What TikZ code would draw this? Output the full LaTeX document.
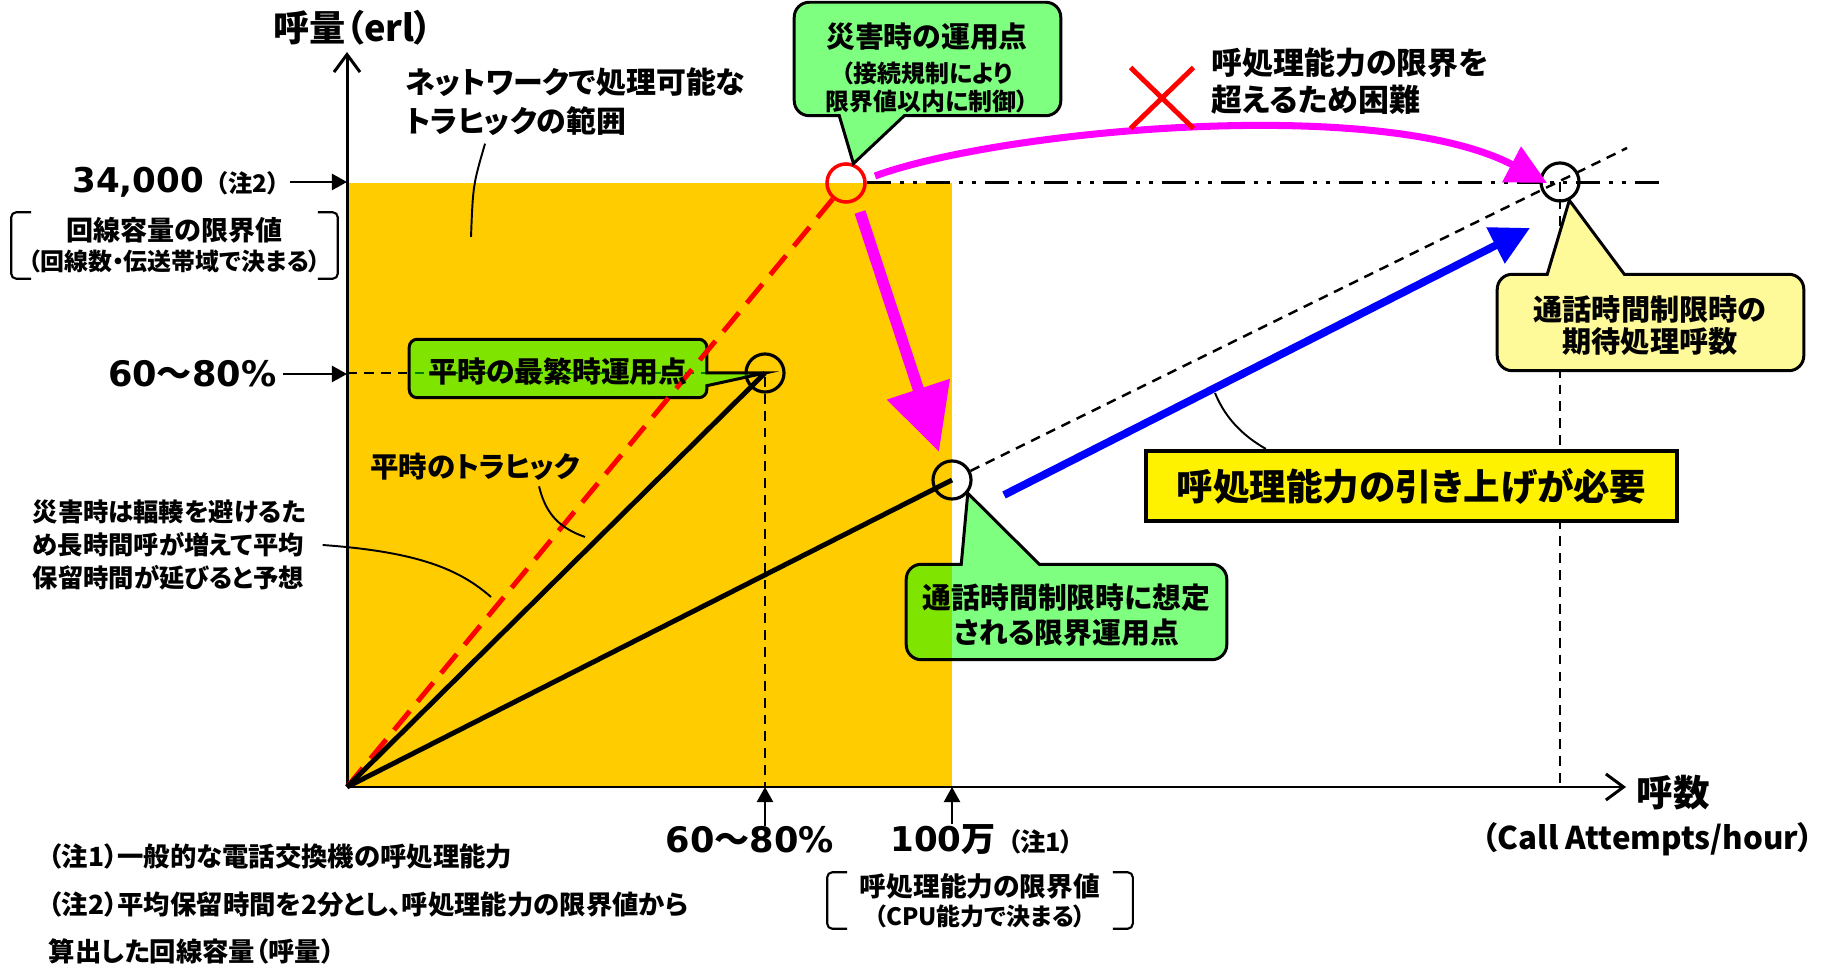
\documentclass[tikz,border=0pt]{standalone}
\usepackage{fontspec}
\setmainfont{Noto Sans CJK JP}[RawFeature=+palt]
\newfontfamily\numfont{DejaVu Sans}
\usetikzlibrary{positioning,calc,arrows.meta,shapes.misc}
\definecolor{zone}{HTML}{FFCC00}
\definecolor{pinkline}{HTML}{FF00FF}

\begin{document}
\begin{tikzpicture}[x=0.01cm, y=-0.01cm,
    every node/.style={inner sep=0pt, font=\bfseries},
    txt/.style 2 args={font=\fontsize{#1}{#2}\selectfont\bfseries},
    oppoint/.style={circle, draw, line width=0.9pt, minimum size=0.38cm},
    axisline/.style={line width=0.85pt, -{Straight Barb[length=5pt,width=7.4pt]}},
    tick/.style={line width=0.6pt, -{Triangle[length=4.3pt,width=4.6pt]}},
    guide/.style={line width=0.7pt, dash pattern=on 2.8pt off 2pt},
    limline/.style={line width=0.85pt, dash pattern=on 6.8pt off 2.6pt on 1.1pt off 2.6pt on 1.1pt off 2.6pt},
    traffic/.style={line width=1.4pt},
    bubble/.style={draw, line width=0.85pt, fill=#1},
    glass/.style={bubble=green, fill opacity=0.5},
    body/.style 2 args={minimum width=#1, minimum height=#2},
    lead/.style={line width=0.55pt},
    brk/.style={line width=0.6pt, rounded corners=0.05cm}
  ]
  \useasboundingbox (0,0) rectangle (1831,965);
  \fill[zone] (347,787) rectangle (952,183);

  \node[oppoint, draw=red, line width=1pt] (p_dis) at (846,183) {};
  \node[oppoint] (p_peak) at (765,373) {};
  \node[oppoint] (p_lim) at (952,480) {};
  \node[oppoint] (p_exp) at (1560,182) {};
  \coordinate (O) at (347,787);
  \coordinate (y_top) at (347,52);
  \coordinate (x_end) at (1626,787);
  \coordinate (dd_end) at (1667,183);
  \coordinate (lim_end) at (1627,148);

  \draw[guide] (p_peak -| O) -- (p_peak.center) -- (p_peak |- O);
  \draw[guide] (p_exp.center) -- (p_exp |- O);
  \draw[guide] (p_lim) -- (lim_end);
  \draw[limline] (p_dis) -- (dd_end);
  \draw[axisline] (O) -- (y_top);
  \draw[axisline] (O) -- (x_end);

  \path (558,368.5) node[body={2.96cm}{0.57cm}] (c_peak) {};
  \draw[glass] (p_peak.center) -- ([yshift=0.12cm]c_peak.south east)
    -- ([yshift=0.08cm]c_peak.south east) [rounded corners=0.08cm]
    -- (c_peak.south east) -- (c_peak.south west) -- (c_peak.north west)
    -- (c_peak.north east) -- ([yshift=-0.16cm]c_peak.north east) [sharp corners]
    -- (c_peak.east |- p_peak) -- cycle;

  \draw[traffic, red, dash pattern=on 7pt off 3.5pt] (O) -- (p_dis);
  \draw[traffic] (O) -- (p_peak.center);
  \draw[traffic] (O) -- (p_lim.center);

  \path (927.5,59) node[body={2.65cm}{1.12cm}] (c_dis) {};
  \draw[glass] (p_dis.69) -- ([xshift=1.1cm]c_dis.south west)
    -- ([xshift=1.5cm]c_dis.south west) [rounded corners=0.15cm]
    -- (c_dis.south east) -- (c_dis.north east) -- (c_dis.north west)
    -- (c_dis.south west) -- ([xshift=0.3cm]c_dis.south west) [sharp corners]
    -- ([xshift=0.45cm]c_dis.south west) -- cycle;

  \path (1066.5,612) node[body={3.19cm}{0.94cm}] (c_lim) {};
  \draw[glass] (p_lim.-40) -- ([xshift=1.33cm]c_lim.north west)
    -- ([xshift=1.6cm]c_lim.north west) [rounded corners=0.15cm]
    -- (c_lim.north east) -- (c_lim.south east) -- (c_lim.south west)
    -- (c_lim.north west) -- ([xshift=0.35cm]c_lim.north west) [sharp corners]
    -- ([xshift=0.55cm]c_lim.north west) -- cycle;

  \path (1650.5,322.5) node[body={3.05cm}{0.95cm}] (c_exp) {};
  \draw[bubble=yellow!40] (p_exp.-63) -- ([xshift=1.27cm]c_exp.north west)
    -- ([xshift=1.6cm]c_exp.north west) [rounded corners=0.15cm]
    -- (c_exp.north east) -- (c_exp.south east) -- (c_exp.south west)
    -- (c_exp.north west) -- ([xshift=0.33cm]c_exp.north west) [sharp corners]
    -- ([xshift=0.5cm]c_exp.north west) -- cycle;

  \draw[line width=3.2pt, pinkline, -{Triangle[length=18.8pt,width=18pt]}]
    ($(p_dis)+(14,29)$) -- ($(p_lim)+(-13,-28)$);
  \draw[line width=2pt, pinkline, -{Triangle[length=11.4pt,width=11pt]}]
    ($(p_dis)+(29,-7)$) .. controls (1000,130) and (1380,95) .. ($(p_exp)+(-13,1)$);
  \draw[line width=2.2pt, blue, -{Triangle[length=11pt,width=11pt]}]
    ($(p_lim)+(52,15)$) -- ($(p_exp)+(-30,46)$);
  \node[cross out, draw=red, line width=1.4pt, minimum width=0.58cm,
    minimum height=0.56cm] (x_mark) at (1162,98) {};

  \node[draw, fill=yellow, line width=1.2pt, body={5.31cm}{0.70cm}, txt={10.4}{12}]
    (need) at (1411.5,486) {呼処理能力の引き上げが必要};
  \coordinate (need_end) at (1215,393);
  \draw[lead] ([xshift=1.22cm]need.north west) .. controls (1245,437) and (1226,420) .. (need_end);

  \node[txt={8.2}{8.2}] (t_peak) at (558,372) {平時の最繁時運用点};
  \node[txt={6.8}{8}, align=center] (t_dis) at (927,68)
    {{\fontsize{8.2}{10}\selectfont 災害時の運用点}\\[2pt]（接続規制により\\限界値以内に制御）};
  \node[txt={8.2}{10}, align=center] (t_lim) at (1066.5,615.5) {通話時間制限時に想定\\される限界運用点};
  \node[txt={8.3}{9.1}, align=center] (t_exp) at (1650,326) {通話時間制限時の\\期待処理呼数};

  \node[txt={10.3}{12}] (ylab) at (353,28) {呼量（erl）};
  \node[txt={10.4}{12}] (xlab) at (1673,793) {呼数};
  \node[txt={8.9}{11}] (xunit) at (1648,839) {（Call Attempts/hour）};

  \node[txt={9.7}{11}, anchor=east] (l_34) at (280,182)
    {{\numfont 34,000}\hspace{0.12cm}{\fontsize{6.9}{8}\selectfont（注2）}};
  \draw[tick] ([xshift=0.1cm]l_34.east) -- (l_34.east -| O);
  \node[txt={7.7}{8.5}, align=center, body={3.25cm}{0.65cm}] (cap) at (174.5,245.5)
    {回線容量の限界値\\{\fontsize{6.8}{8.5}\selectfont（回線数・伝送帯域で決まる）}};
  \draw[brk] ([xshift=0.2cm]cap.north west) -- (cap.north west) -- (cap.south west) -- ([xshift=0.2cm]cap.south west);
  \draw[brk] ([xshift=-0.2cm]cap.north east) -- (cap.north east) -- (cap.south east) -- ([xshift=-0.2cm]cap.south east);
  \node[txt={10}{11}, anchor=east] (l_6080) at (277,374) {{\numfont 60}～{\numfont 80\%}};
  \draw[tick] ([xshift=0.06cm]l_6080.east) -- (l_6080.east -| O);

  \node[txt={10}{11}] (b_6080) at (750,840) {{\numfont 60}～{\numfont 80\%}};
  \draw[tick] (b_6080.north -| p_peak) -- (p_peak |- O);
  \node[txt={9.7}{11}] (b_100) at (982,840)
    {{\numfont 100}万\hspace{0.12cm}{\fontsize{7.2}{8}\selectfont（注1）}};
  \draw[tick] (b_100.north -| p_lim) -- (p_lim |- O);
  \node[txt={7.6}{8.3}, align=center, body={3.04cm}{0.55cm}] (cpu) at (980,900.5)
    {呼処理能力の限界値\\{\fontsize{6.8}{8.3}\selectfont（CPU能力で決まる）}};
  \draw[brk] ([xshift=0.2cm]cpu.north west) -- (cpu.north west) -- (cpu.south west) -- ([xshift=0.2cm]cpu.south west);
  \draw[brk] ([xshift=-0.2cm]cpu.north east) -- (cpu.north east) -- (cpu.south east) -- ([xshift=-0.2cm]cpu.south east);

  \node[txt={7.5}{13.4}, align=left, anchor=west] (notes) at (48,904)
    {（注1）一般的な電話交換機の呼処理能力\\（注2）平均保留時間を2分とし、呼処理能力の限界値から\\算出した回線容量（呼量）};

  \node[txt={8.5}{11.1}, align=left, anchor=west] (net) at (405,102)
    {ネットワークで処理可能な\\トラヒックの範囲};
  \coordinate (net_end) at (471,237);
  \draw[lead] ([xshift=0.8cm,yshift=-0.07cm]net.south west) .. controls (473,185) .. (net_end);

  \node[txt={8.1}{9}] (tr) at (475,467) {平時のトラヒック};
  \coordinate (tr_end) at (585,537);
  \draw[lead] ([xshift=0.64cm,yshift=-0.05cm]tr.south) .. controls (546,515) and (560,528) .. (tr_end);

  \node[txt={7.2}{9.4}, align=left, anchor=west] (dnote) at (32,545)
    {災害時は輻輳を避けるた\\め長時間呼が増えて平均\\保留時間が延びると予想};
  \coordinate (dn_end) at (491,597);
  \draw[lead] ([xshift=0.16cm]dnote.east) .. controls (420,552) and (460,570) .. (dn_end);

  \node[txt={8.8}{10.5}, align=left, anchor=west] (hard) at (1211,81.5)
    {呼処理能力の限界を\\超えるため困難};
\end{tikzpicture}
\end{document}
